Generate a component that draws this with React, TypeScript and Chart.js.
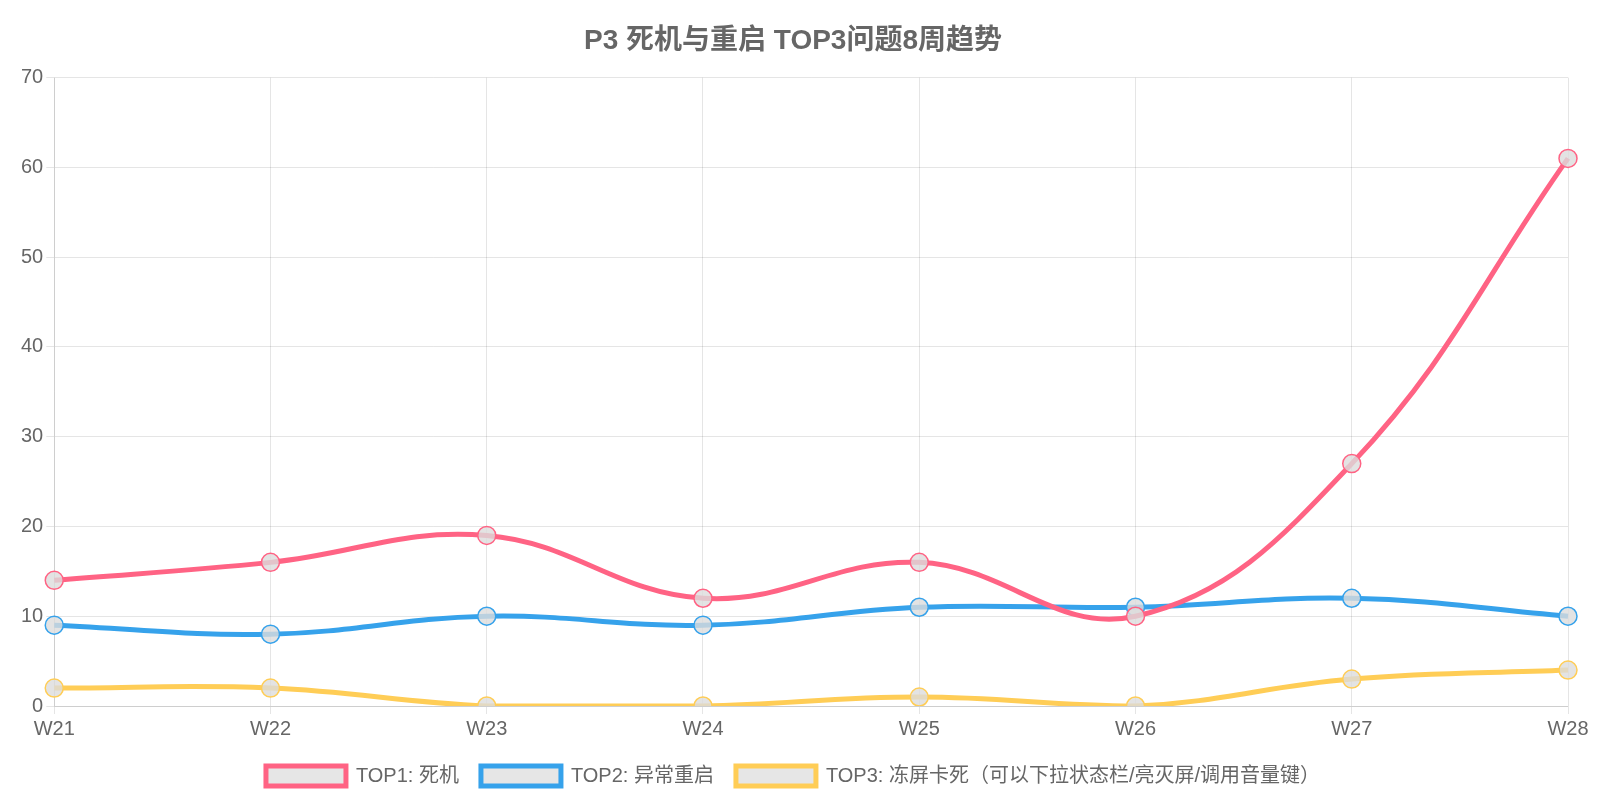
import React, { useEffect, useRef } from "react";
import { Chart, registerables } from "chart.js";
Chart.register(...registerables);

const categories = ["W21", "W22", "W23", "W24", "W25", "W26", "W27", "W28"];
const top1 = [14, 16, 19, 12, 16, 10, 27, 61];
const top2 = [9, 8, 10, 9, 11, 11, 12, 10];
const top3 = [2, 2, 0, 0, 1, 0, 3, 4];
const labels = ["TOP1: 死机", "TOP2: 异常重启", "TOP3: 冻屏卡死（可以下拉状态栏/亮灭屏/调用音量键）"];
const colors = ["#ff6384", "#36a2eb", "#ffcd56"];

export default function App() {
  const ref = useRef<HTMLCanvasElement>(null);
  useEffect(() => {
    const font = "'Liberation Sans', Arial, 'Noto Sans CJK SC', sans-serif";
    const mk = (i: number, data: number[]) => ({
      label: labels[i],
      data,
      borderColor: colors[i],
      backgroundColor: "rgba(230,230,230,1)",
      pointBackgroundColor: "rgba(220,220,220,0.8)",
      pointBorderColor: colors[i],
      pointRadius: 9,
      pointBorderWidth: 1.5,
      borderWidth: 5,
      tension: 0.4,
      fill: false,
    });
    const chart = new Chart(ref.current!, {
      type: "line",
      data: { labels: categories, datasets: [mk(0, top1), mk(1, top2), mk(2, top3)] },
      options: {
        animation: false,
        responsive: false,
        layout: { padding: { left: 18, right: 32, top: 0, bottom: 4 } },
        plugins: {
          title: { display: true, text: "P3 死机与重启 TOP3问题8周趋势", color: "#666", font: { family: font, size: 28, weight: "bold" }, padding: { top: 24, bottom: 20 } },
          legend: { position: "bottom", labels: { color: "#666", boxWidth: 80, boxHeight: 20, font: { family: font, size: 20 }, padding: 22 } },
        },
        scales: {
          x: { ticks: { color: "#666", font: { family: font, size: 20 } }, grid: { color: "rgba(0,0,0,0.1)" } },
          y: { min: 0, max: 70, ticks: { stepSize: 10, color: "#666", font: { family: font, size: 20 } }, grid: { color: "rgba(0,0,0,0.1)" } },
        },
      },
    });
    return () => chart.destroy();
  }, []);
  return (
    <div style={{ position: "fixed", left: 0, top: 0, width: 1600, height: 800, background: "#fff" }}>
      <canvas ref={ref} width={1600} height={800} />
    </div>
  );
}
